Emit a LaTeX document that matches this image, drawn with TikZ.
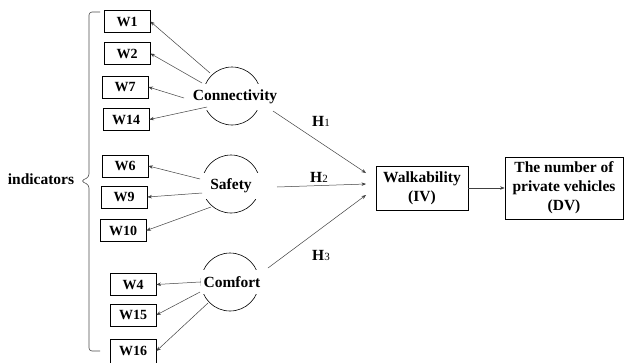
\documentclass[tikz,border=0pt]{standalone}
\usepackage{fontspec}
\setmainfont{Liberation Serif}
\usetikzlibrary{arrows.meta}
\begin{document}
\begin{tikzpicture}[x=1pt,y=-1pt,
  every node/.style={font=\fontsize{15.5}{19}\selectfont\bfseries},
  wbox/.style={draw,line width=0.8pt,minimum width=46pt,minimum height=22pt,inner sep=0pt,font=\fontsize{14}{16}\selectfont\bfseries},
  bigbox/.style={draw,line width=0.8pt,inner sep=0pt,align=center},
  latent/.style={draw,circle,line width=0.6pt,minimum size=58pt,inner sep=0pt},
  ltext/.style={fill=white,inner xsep=1pt,inner ysep=6pt,minimum width=62pt},
  arr/.style={draw=black!75,line width=0.5pt,-{Stealth[length=4.5pt,width=3.5pt]}},
  brk/.style={draw=black!70,line width=0.6pt,rounded corners=3pt},
  hlab/.style={inner sep=0pt}
]
\useasboundingbox (0,0) rectangle (624,362);
% indicator boxes
\node[wbox] (w1) at (127,21.5) {W1};
\node[wbox] (w2) at (127,53.5) {W2};
\node[wbox] (w7) at (125,87) {W7};
\node[wbox] (w14) at (126,119.5) {W14};
\node[wbox] (w6) at (125,166) {W6};
\node[wbox] (w9) at (124,197) {W9};
\node[wbox] (w10) at (123,230.5) {W10};
\node[wbox] (w4) at (133,284.5) {W4};
\node[wbox] (w15) at (133,315) {W15};
\node[wbox,minimum height=24pt] (w16) at (133,351) {W16};
% latent constructs
\node[latent] (cc) at (232,96) {};
\node[ltext] (ct) at (235,97) {Connectivity};
\node[latent] (sc) at (231,184) {};
\node[ltext] (st) at (231,186) {Safety};
\node[latent] (fc) at (230,282) {};
\node[ltext] (ft) at (232,282) {Comfort};
% main boxes
\node[bigbox,minimum width=92pt,minimum height=44pt] (wk) at (422,188) {Walkability\\(IV)};
\node[bigbox,minimum width=118pt,minimum height=62pt] (dv) at (564,188) {The number of\\private vehicles\\(DV)};
% indicators label and bracket
\node (ind) at (41,179) {indicators};
\coordinate (bt) at (100,12);
\coordinate (bm) at (81,181);
\coordinate (bb) at (100,351);
\draw[brk] (bt) -| (89,177) -- (bm) -- (89,185) |- (bb);
% free ends
\coordinate (s1) at (210,73);
\coordinate (s2) at (202,83);
\coordinate (s7) at (184,98);
\coordinate (s14) at (207,107);
\coordinate (s6) at (200,179);
\coordinate (s9) at (202,193);
\coordinate (s10) at (211,207);
\coordinate (s4) at (200,282);
\coordinate (s15) at (200,292);
\coordinate (s16) at (208,303);
\coordinate (h1s) at (273,111);
\coordinate (h2s) at (277,187);
\coordinate (h3s) at (268,268);
\coordinate (h1e) at (366,173);
\coordinate (h2e) at (366,184);
\coordinate (h3e) at (366,195);
% loadings
\draw[arr] (s1) -- (w1.east);
\draw[arr] (s2) -- (w2.east);
\draw[arr] (s7) -- (w7.east);
\draw[arr] (s14) -- (w14.east);
\draw[arr] (s6) -- (w6.east);
\draw[arr] (s9) -- (w9.east);
\draw[arr] (s10) -- (w10.east);
\draw[arr] (s4) -- (w4.east);
\draw[arr] (s15) -- (w15.east);
\draw[arr] (s16) -- (w16.east);
% hypotheses
\draw[arr] (h1s) -- (h1e);
\draw[arr] (h2s) -- (h2e);
\draw[arr] (h3s) -- (h3e);
\draw[arr] (wk.east) -- (dv.west);
\node[hlab] (h1) at (321,121) {H{\fontsize{11}{12}\selectfont\mdseries 1}};
\node[hlab] (h2) at (319,177) {H{\fontsize{11}{12}\selectfont\mdseries 2}};
\node[hlab] (h3) at (321,255) {H{\fontsize{11}{12}\selectfont\mdseries 3}};
\end{tikzpicture}
\end{document}
